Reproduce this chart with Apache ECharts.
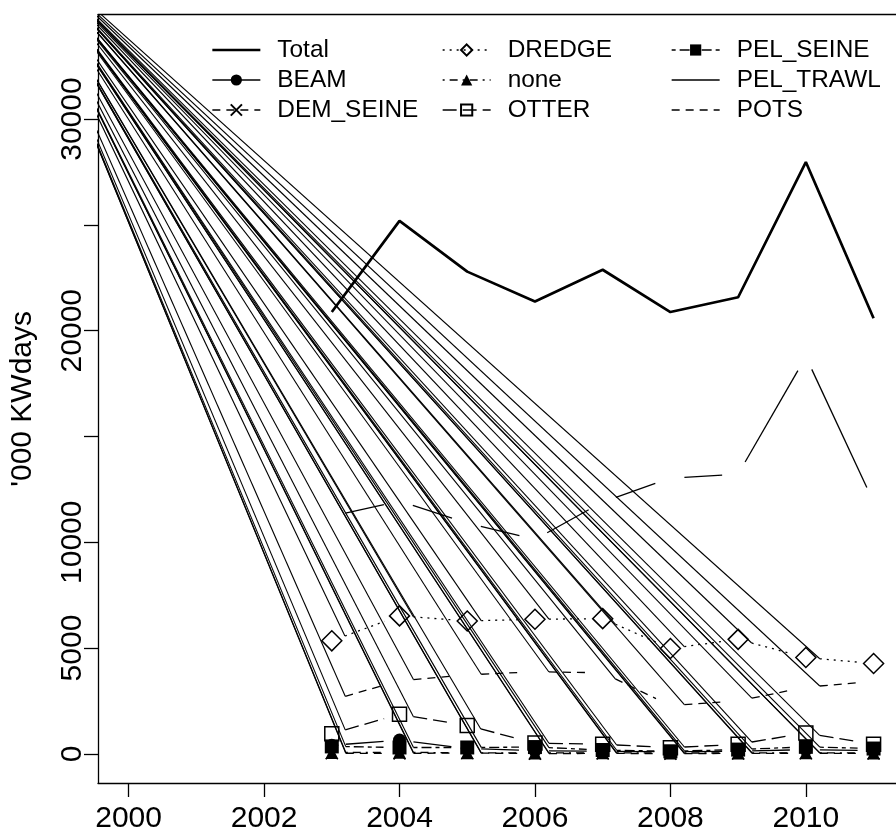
<!DOCTYPE html>
<html><head><meta charset="utf-8">
<script src="https://cdn.jsdelivr.net/npm/echarts@6/dist/echarts.min.js"></script>
<style>html,body{margin:0;padding:0;background:#fff}#c{width:896px;height:834px}</style>
</head><body><div id="c"></div>
<script>
// ---- data ----
const years = [2003, 2004, 2005, 2006, 2007, 2008, 2009, 2010, 2011];
const total = [20880, 25190, 22790, 21380, 22880, 20880, 21580, 27970, 20590];
const beam = [400, 650, 250, 150, 120, 100, 120, 200, 150];
const demSeine = [30, 20, 40, 10, 20, 10, 20, 30, 20];
const dredge = [5340, 6520, 6280, 6360, 6390, 4980, 5410, 4550, 4270];
const none = [60, 70, 50, 40, 50, 40, 40, 50, 40];
const otter = [950, 1870, 1340, 510, 450, 290, 450, 980, 450];
const pelSeine = [350, 300, 300, 320, 180, 120, 200, 330, 250];
const pelTrawl = [11240, 11940, 10910, 10130, 11900, 13030, 13220, 18770, 11900];
const pots = [2540, 3450, 3730, 3880, 3830, 2280, 2500, 3150, 3420];
const xTicks = [2000, 2002, 2004, 2006, 2008, 2010];
const yTicks = [0, 5000, 10000, 15000, 20000, 25000, 30000];
const yLabels = [0, 5000, 10000, 20000, 30000];
const yName = "'000 KWdays";
const anchor = [1998.25, 38800]; // common origin of the stray strokes

const gearNames = ['BEAM', 'DEM_SEINE', 'DREDGE', 'none', 'OTTER', 'PEL_SEINE', 'PEL_TRAWL', 'POTS'];
const gearValues = {BEAM: beam, DEM_SEINE: demSeine, DREDGE: dredge, none: none, OTTER: otter,
  PEL_SEINE: pelSeine, PEL_TRAWL: pelTrawl, POTS: pots};

// ---- styles ----
const LW = 1.3;
const styles = {
  BEAM: {symbol: 'circle', size: 13, filled: true, dash: 'solid'},
  DEM_SEINE: {symbol: 'path://M0,0L10,10M10,0L0,10', size: 12, filled: false, dash: [8, 6]},
  DREDGE: {symbol: 'diamond', size: [20, 20], filled: false, dash: [2, 5]},
  none: {symbol: 'triangle', size: 13, filled: true, dash: [2, 5, 8, 5]},
  OTTER: {symbol: 'rect', size: 14, filled: false, dash: [14, 6]},
  PEL_SEINE: {symbol: 'rect', size: 14, filled: true, dash: [4, 4, 10, 4]},
  PEL_TRAWL: {symbol: 'none', size: 0, filled: false, dash: 'solid'},
  POTS: {symbol: 'none', size: 0, filled: false, dash: [8, 6]}
};
const GAP0 = 14, GAP1 = 16;
const FONT = "'Liberation Sans', Arial, sans-serif";

function segRender(dash) {
  const stray = dash !== 'solid';
  return function (params, api) {
    const p0 = api.coord([api.value(0), api.value(1)]);
    const p1 = api.coord([api.value(2), api.value(3)]);
    const a = api.coord(anchor);
    const dx = p1[0] - p0[0], dy = p1[1] - p0[1];
    const L = Math.hypot(dx, dy) || 1;
    const ux = dx / L, uy = dy / L;
    const s = [p0[0] + ux * GAP0, p0[1] + uy * GAP0];
    const e = [p1[0] - ux * GAP1, p1[1] - uy * GAP1];
    const children = [
      {type: 'line', shape: {x1: s[0], y1: s[1], x2: e[0], y2: e[1]},
        style: {stroke: '#000', lineWidth: LW, lineDash: stray ? dash : null}}
    ];
    if (stray) children.push({type: 'line', shape: {x1: a[0], y1: a[1], x2: s[0], y2: s[1]},
      style: {stroke: '#000', lineWidth: 1.1}});
    return {type: 'group', children};
  };
}

const series = [];
series.push({name: 'Total', type: 'line', data: years.map((y, i) => [y, total[i]]),
  symbol: 'none', lineStyle: {color: '#000', width: 2.7}, itemStyle: {color: '#000'}, z: 5, animation: false});
gearNames.forEach(g => {
  const st = styles[g];
  const vals = gearValues[g];
  series.push({name: g + '_seg', type: 'custom', clip: true, z: 2, animation: false,
    renderItem: segRender(st.dash),
    encode: {x: [0, 2], y: [1, 3]},
    data: years.slice(0, -1).map((y, i) => [y, vals[i], years[i + 1], vals[i + 1]])});
  series.push({name: g, type: 'line', data: years.map((y, i) => [y, vals[i]]),
    symbol: st.symbol, symbolSize: st.size, showSymbol: st.symbol !== 'none', z: 4, animation: false,
    lineStyle: {opacity: 0, width: 0},
    itemStyle: st.filled ? {color: '#000', borderColor: '#000', borderWidth: 0}
                         : {color: 'rgba(0,0,0,0)', borderColor: '#000', borderWidth: 1.5}});
});

function legendItem(name) {
  if (name === 'Total') return {name, lineStyle: {color: '#000', width: 2.7, type: 'solid', opacity: 1},
    itemStyle: {opacity: 0}};
  const st = styles[name];
  const it = {name, lineStyle: {color: '#000', width: LW, type: st.dash, opacity: 1}};
  if (st.symbol === 'none') it.itemStyle = {opacity: 0};
  return it;
}
const legendCols = [['Total', 'BEAM', 'DEM_SEINE'], ['DREDGE', 'none', 'OTTER'], ['PEL_SEINE', 'PEL_TRAWL', 'POTS']];
const legendLeft = [206, 437, 666];
const legends = legendCols.map((col, k) => ({
  data: col.map(legendItem), orient: 'vertical', left: legendLeft[k], top: 33,
  itemWidth: 48, itemHeight: 14, itemGap: 6, selectedMode: false,
  textStyle: {fontSize: 24.4, fontFamily: FONT, color: '#000', lineHeight: 24, padding: [0, 0, 0, 12]}
}));

const axisLineStyle = {color: '#000', width: 1.3};
const option = {
  backgroundColor: '#fff',
  animation: false,
  grid: {left: 97.7, top: 14.7, right: 0, bottom: 48, containLabel: false},
  legend: legends,
  xAxis: [{
    type: 'value', min: 1999.548, max: 2011.331,
    axisLine: {show: true, onZero: false, lineStyle: axisLineStyle},
    axisTick: {show: true, length: 14, lineStyle: axisLineStyle, customValues: xTicks},
    axisLabel: {customValues: xTicks, fontSize: 30, fontFamily: FONT, color: '#000', margin: 21,
      formatter: v => String(v)},
    splitLine: {show: false}
  }, {
    type: 'value', position: 'top', min: 1999.548, max: 2011.331,
    axisLine: {show: true, onZero: false, lineStyle: axisLineStyle},
    axisTick: {show: false}, axisLabel: {show: false}, splitLine: {show: false}
  }],
  yAxis: {
    type: 'value', min: -1379, max: 34934,
    name: yName, nameLocation: 'middle', nameGap: 60, nameRotate: 90,
    nameTextStyle: {fontSize: 30, fontFamily: FONT, color: '#000'},
    axisLine: {show: true, onZero: false, lineStyle: axisLineStyle},
    axisTick: {show: true, length: 14, lineStyle: axisLineStyle, customValues: yTicks},
    axisLabel: {customValues: yLabels, rotate: 90, fontSize: 30, fontFamily: FONT, color: '#000', margin: 10,
      formatter: v => String(v)},
    splitLine: {show: false}
  },
  series: series
};
const chart = echarts.init(document.getElementById('c'), null, {renderer: 'canvas'});
chart.setOption(option);
</script></body></html>
